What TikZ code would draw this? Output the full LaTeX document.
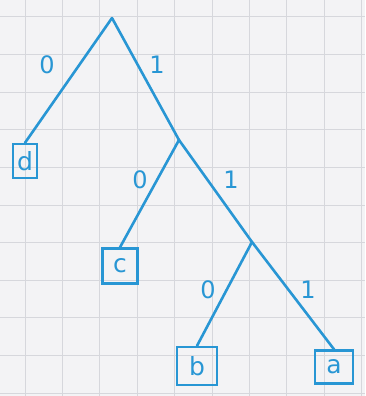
\documentclass[tikz,border=0pt]{standalone}
\usepackage{fontspec}
\setmainfont{DejaVu Sans}
\definecolor{ink}{RGB}{40,150,212}
\definecolor{paper}{RGB}{243,243,245}
\definecolor{gridc}{RGB}{214,215,220}
\begin{document}
\begin{tikzpicture}[x=1pt,y=-1pt,
  edge/.style={draw=ink,line width=2.6pt,line cap=round},
  leaf/.style={draw=ink,line width=2.4pt,text=ink,inner sep=0pt,font=\fontsize{25}{25}\selectfont},
  lbl/.style={text=ink,font=\fontsize{24}{24}\selectfont,inner sep=0pt}]
\useasboundingbox (0,0) rectangle (365,396);
\fill[paper] (0,0) rectangle (365,396);
\foreach \i in {0,...,9} {
  \draw[gridc,line width=1pt] ({25+37.4*\i},0) -- ({25+37.4*\i},396);
}
\foreach \j in {0,...,10} {
  \draw[gridc,line width=1pt] (0,{17+37.6*\j}) -- (365,{17+37.6*\j});
}
\coordinate (r) at (112,18);
\coordinate (n1) at (179,140);
\coordinate (n2) at (252,242);
\node[leaf,minimum width=24pt,minimum height=34pt] (d) at (25,161) {d};
\node[leaf,minimum width=35pt,minimum height=35pt] (c) at (120,266) {c};
\node[leaf,minimum width=40pt,minimum height=38pt] (b) at (197,366) {b};
\node[leaf,minimum width=38pt,minimum height=33pt] (a) at (334,367) {a};
\draw[edge] (r) -- (d.north);
\draw[edge] (r) -- (n1);
\draw[edge] (n1) -- (c.north);
\draw[edge] (n1) -- (n2);
\draw[edge] (n2) -- (b.north);
\draw[edge] (n2) -- (a.north);
\node[lbl] (l1) at (47,65) {0};
\node[lbl] (l2) at (157,65) {1};
\node[lbl] (l3) at (140,180) {0};
\node[lbl] (l4) at (231,180) {1};
\node[lbl] (l5) at (208,290) {0};
\node[lbl] (l6) at (308,290) {1};
\end{tikzpicture}
\end{document}
